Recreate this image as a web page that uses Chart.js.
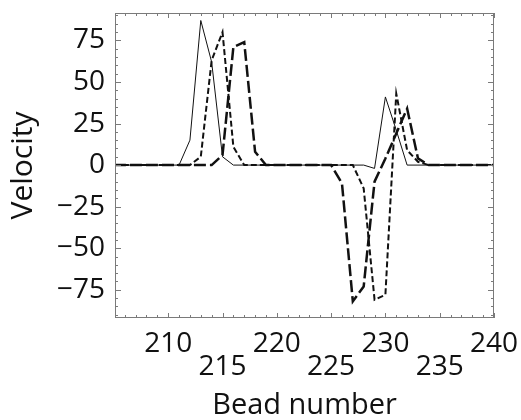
<!DOCTYPE html>
<html>
<head>
<meta charset="utf-8">
<script src="https://cdn.jsdelivr.net/npm/chart.js@4/dist/chart.umd.min.js"></script>
<style>
    html, body { margin: 0; padding: 0; background: #fff; }
    #wrap { width: 521px; height: 420px; }
</style>
</head>
<body>
<div id="wrap"><canvas id="beadChart" width="521" height="420"></canvas></div>
<script>
(function () {
    var beads = [205, 206, 207, 208, 209, 210, 211, 212, 213, 214, 215, 216, 217, 218, 219, 220, 221, 222,
        223, 224, 225, 226, 227, 228, 229, 230, 231, 232, 233, 234, 235, 236, 237, 238, 239, 240];

    // thin solid line
    var velocityA = [0, 0, 0, 0, 0, 0, 0, 15, 87, 62, 5, 0, 0, 0, 0, 0, 0, 0,
        0, 0, 0, 0, 0, 0, -2, 41, 21, 0, 0, 0, 0, 0, 0, 0, 0, 0];
    // short dashes
    var velocityB = [0, 0, 0, 0, 0, 0, 0, 0, 5, 63, 80, 11, 0, 0, 0, 0, 0, 0,
        0, 0, 0, 0, 0, -14, -81, -78, 43, 9, 2, 0, 0, 0, 0, 0, 0, 0];
    // long dashes
    var velocityC = [0, 0, 0, 0, 0, 0, 0, 0, 0, 0, 6, 71, 74, 8, 0, 0, 0, 0,
        0, 0, 0, -11, -82, -73, -10, 4, 19, 34, 4, 0, 0, 0, 0, 0, 0, 0];

    var xTicks = [210, 215, 220, 225, 230, 235, 240];
    var yTicks = [-75, -50, -25, 0, 25, 50, 75];

    var fontFamily = '"Open Sans", "DejaVu Sans", sans-serif';

    function points(vals) {
        return beads.map(function (b, i) { return { x: b, y: vals[i] }; });
    }

    function fmtNum(v) {
        return v < 0 ? '\u2212' + Math.abs(v) : String(v);
    }

    // frame with small inward ticks on every side
    var framePlugin = {
        id: 'frameTicks',
        afterDraw: function (chart) {
            var ctx = chart.ctx;
            var a = chart.chartArea;
            var xs = chart.scales.x;
            var ys = chart.scales.y;
            var v, px, len;

            ctx.save();
            ctx.strokeStyle = '#7a7a7a';
            ctx.lineWidth = 1;
            ctx.strokeRect(a.left + 0.5, a.top + 0.5, a.right - a.left - 1, a.bottom - a.top - 1);

            ctx.beginPath();
            for (v = Math.ceil(xs.min); v <= xs.max; v++) {
                px = Math.round(xs.getPixelForValue(v)) + 0.5;
                len = v % 5 === 0 ? 5 : 3;
                ctx.moveTo(px, a.bottom);
                ctx.lineTo(px, a.bottom - len);
                ctx.moveTo(px, a.top);
                ctx.lineTo(px, a.top + len);
            }
            for (v = -90; v <= 90; v += 5) {
                px = Math.round(ys.getPixelForValue(v)) + 0.5;
                len = v % 25 === 0 ? 6 : 3;
                ctx.moveTo(a.left, px);
                ctx.lineTo(a.left + len, px);
                ctx.moveTo(a.right, px);
                ctx.lineTo(a.right - len, px);
            }
            ctx.stroke();
            ctx.restore();
        }
    };

    var canvas = document.getElementById('beadChart');

    new Chart(canvas.getContext('2d'), {
        type: 'line',
        data: {
            datasets: [{
                label: 'A',
                data: points(velocityA),
                borderColor: '#111',
                borderWidth: 1,
                pointRadius: 0,
                tension: 0
            }, {
                label: 'B',
                data: points(velocityB),
                borderColor: '#111',
                borderWidth: 2,
                borderDash: [6, 3],
                pointRadius: 0,
                tension: 0
            }, {
                label: 'C',
                data: points(velocityC),
                borderColor: '#111',
                borderWidth: 2.5,
                borderDash: [12, 4],
                pointRadius: 0,
                tension: 0
            }]
        },
        options: {
            responsive: false,
            animation: false,
            layout: { padding: { left: 0, top: 13, right: 27, bottom: 0 } },
            plugins: {
                legend: { display: false },
                tooltip: { enabled: false }
            },
            scales: {
                x: {
                    type: 'linear',
                    min: 205.1,
                    max: 240,
                    grid: { display: false, drawTicks: false },
                    border: { display: false },
                    afterBuildTicks: function (scale) {
                        scale.ticks = xTicks.map(function (v) { return { value: v }; });
                    },
                    afterFit: function (scale) {
                        scale.height = 102;
                        scale.paddingLeft = 0;
                        scale.paddingRight = 0;
                    },
                    ticks: {
                        autoSkip: false,
                        maxRotation: 0,
                        padding: 15,
                        color: '#111',
                        font: { family: fontFamily, size: 28, lineHeight: 0.82 },
                        callback: function (value) {
                            return value % 10 === 0 ? [String(value), ''] : ['', String(value)];
                        }
                    },
                    title: {
                        display: true,
                        text: 'Bead number',
                        color: '#111',
                        padding: { top: 0, bottom: 0 },
                        font: { family: fontFamily, size: 29, lineHeight: 1 }
                    }
                },
                y: {
                    min: -92,
                    max: 91.5,
                    grid: { display: false, drawTicks: false },
                    border: { display: false },
                    afterBuildTicks: function (scale) {
                        scale.ticks = yTicks.map(function (v) { return { value: v }; });
                    },
                    afterFit: function (scale) {
                        scale.width = 115;
                        scale.paddingTop = 0;
                        scale.paddingBottom = 0;
                    },
                    ticks: {
                        padding: 10,
                        color: '#111',
                        font: { family: fontFamily, size: 28 },
                        callback: function (value) { return fmtNum(value); }
                    },
                    title: {
                        display: true,
                        text: 'Velocity',
                        color: '#111',
                        padding: { top: 8.5, bottom: 0 },
                        font: { family: fontFamily, size: 30, lineHeight: 1 }
                    }
                }
            }
        },
        plugins: [framePlugin]
    });
})();
</script>
</body>
</html>
